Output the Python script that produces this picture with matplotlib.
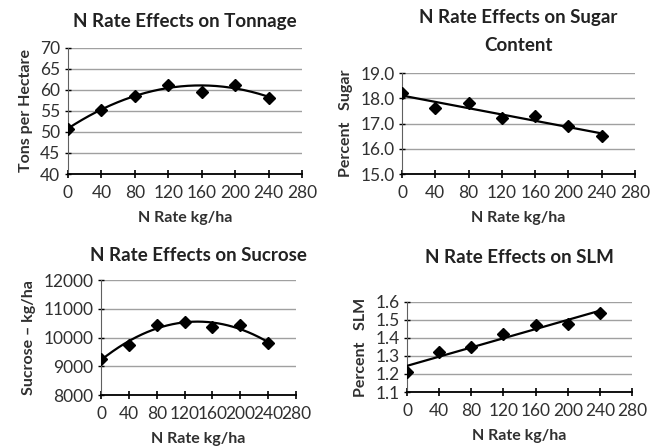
import numpy as np
import matplotlib.pyplot as plt

plt.rcParams['font.family'] = ['Lato', 'DejaVu Sans']

n_rate = [0, 40, 80, 120, 160, 200, 240]
tonnage = [50.8, 55.3, 58.6, 61.3, 59.6, 61.3, 58.2]
sugar = [18.2, 17.6, 17.8, 17.2, 17.3, 16.9, 16.5]
sucrose = [9250, 9750, 10450, 10550, 10350, 10430, 9800]
slm = [1.21, 1.32, 1.35, 1.42, 1.47, 1.48, 1.54]
x_ticks = [0, 40, 80, 120, 160, 200, 240, 280]


def panel(fig, rect, y, deg, title, ylabel, yticks, fmt, title_pad=8):
    ax = fig.add_axes(rect)
    x = np.array(n_rate)
    coef = np.polyfit(x, y, deg)
    xs = np.linspace(0, 240, 200)
    ax.plot(xs, np.polyval(coef, xs), color='black', lw=1.6, zorder=3)
    ax.plot(x, y, 'D', color='black', ms=6.5, zorder=4)
    ax.set_xlim(0, 280)
    ax.set_ylim(yticks[0], yticks[-1])
    ax.set_xticks(x_ticks)
    ax.set_yticks(yticks)
    ax.set_yticklabels([fmt.format(v) for v in yticks])
    ax.grid(axis='y', color='#a0a0a0', lw=1.0)
    ax.set_axisbelow(True)
    for s in ['top', 'right']:
        ax.spines[s].set_visible(False)
    ax.spines['left'].set_color('#606060')
    ax.spines['bottom'].set_color('black')
    ax.spines['bottom'].set_linewidth(1.3)
    ax.tick_params(axis='x', direction='inout', length=6, width=1.2,
                   labelsize=12.5, labelcolor='#303030', pad=5)
    ax.tick_params(axis='y', direction='inout', length=5, width=1.0,
                   labelsize=12.5, labelcolor='#303030', pad=3)
    ax.set_xlabel('N Rate kg/ha', fontsize=11.5, fontweight='bold',
                  color='#303030', labelpad=7)
    ax.set_ylabel(ylabel, fontsize=11.5, fontweight='bold', color='#303030', labelpad=5)
    ax.set_title(title, fontsize=13.5, fontweight='bold', color='#222222',
                 pad=title_pad, linespacing=1.75)
    return ax


fig = plt.figure(figsize=(6.5, 4.48), dpi=100)

panel(fig, [0.1046, 0.6116, 0.36, 0.2813], tonnage, 2,
      'N Rate Effects on Tonnage', 'Tons per Hectare',
      [40, 45, 50, 55, 60, 65, 70], '{:d}', title_pad=15)
panel(fig, [0.6185, 0.6116, 0.3585, 0.2254], sugar, 1,
      'N Rate Effects on Sugar\nContent', 'Percent   Sugar',
      [15.0, 16.0, 17.0, 18.0, 19.0], '{:.1f}', title_pad=16)
panel(fig, [0.1554, 0.1183, 0.30, 0.2567], sucrose, 2,
      'N Rate Effects on Sucrose', 'Sucrose – kg/ha',
      [8000, 9000, 10000, 11000, 12000], '{:d}', title_pad=14)
panel(fig, [0.6262, 0.125, 0.3462, 0.2009], slm, 1,
      'N Rate Effects on SLM', 'Percent   SLM',
      [1.1, 1.2, 1.3, 1.4, 1.5, 1.6], '{:.1f}', title_pad=28)

fig.savefig('out.png', dpi=100)
